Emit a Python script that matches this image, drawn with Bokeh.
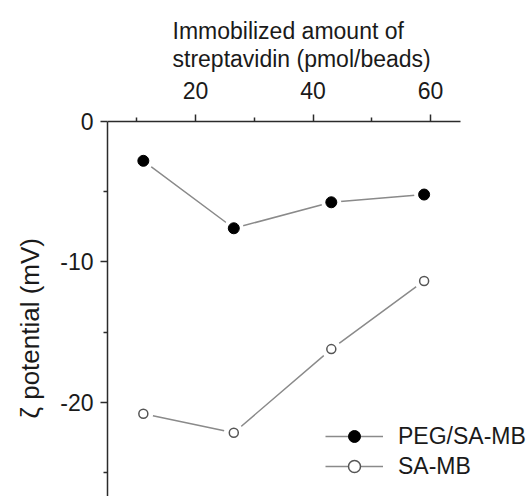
from bokeh.plotting import figure
from bokeh.models import Range1d, FixedTicker, Label, Legend, LegendItem, Title
from bokeh.embed import file_html
from bokeh.resources import INLINE

# ---- data ----
x_strep = [11.1, 26.5, 43.1, 58.9]
peg_sa_mb = [-2.8, -7.6, -5.75, -5.2]
sa_mb = [-20.8, -22.15, -16.2, -11.35]
x_major = [20, 40, 60]
x_minor = [10, 30, 50]
y_major = [0, -10, -20]
y_minor = [-5, -15, -25]
y_tick_text = {0: "0", -10: "-10", -20: "-20"}
series_labels = ["PEG/SA-MB", "SA-MB"]
x_title_lines = ["Immobilized amount of", "streptavidin (pmol/beads)"]
y_title = "ζ potential (mV)"

FONT = "Liberation Sans"
TXT = "#1a1a1a"
AX = "#2b2b2b"
FW, FH = 422, 496

p = figure(frame_width=FW, frame_height=FH,
           min_border_left=107, min_border_right=0,
           min_border_top=0, min_border_bottom=0,
           x_range=Range1d(5, 76.84), y_range=Range1d(-26.69, 8.61),
           x_axis_location="above", y_axis_location="left",
           output_backend="svg", toolbar_location=None)
p.xgrid.visible = False
p.ygrid.visible = False
p.outline_line_color = None
p.background_fill_color = "white"
p.border_fill_color = "white"

p.xaxis.ticker = FixedTicker(ticks=x_major, minor_ticks=x_minor)
p.yaxis.ticker = FixedTicker(ticks=y_major, minor_ticks=y_minor)
p.xaxis.fixed_location = 0
p.xaxis.bounds = (5, 65.1)
p.yaxis.bounds = (-26.69, 0)
p.yaxis.major_label_overrides = y_tick_text
for ax in (p.xaxis[0], p.yaxis[0]):
    ax.axis_line_color = AX
    ax.axis_line_width = 1.5
    ax.major_tick_line_color = AX
    ax.major_tick_line_width = 1.5
    ax.minor_tick_line_color = AX
    ax.minor_tick_line_width = 1.5
    ax.major_tick_out = 7
    ax.major_tick_in = 0
    ax.minor_tick_out = 4
    ax.minor_tick_in = 0
    ax.major_label_text_font = FONT
    ax.major_label_text_font_size = "23px"
    ax.major_label_text_color = TXT
p.xaxis.major_label_standoff = 15
p.yaxis.major_label_standoff = 7

# y title as a left-side title, anchored from the frame bottom
p.add_layout(Title(text=y_title, align="left", offset=78, standoff=25,
                   text_font=FONT, text_font_size="26px", text_font_style="normal",
                   text_color=TXT), "left")

# lines
l1 = p.line(x_strep, peg_sa_mb, line_color="#8a8a8a", line_width=1.5)
l2 = p.line(x_strep, sa_mb, line_color="#8a8a8a", line_width=1.5)
# gaps around markers
p.scatter(x_strep, peg_sa_mb, size=20, fill_color="white", line_color=None)
p.scatter(x_strep, sa_mb, size=20, fill_color="white", line_color=None)
# markers
m1 = p.scatter(x_strep, peg_sa_mb, size=11, fill_color="black", line_color="black", line_width=1)
m2 = p.scatter(x_strep, sa_mb, size=9, fill_color="white", line_color="#555555", line_width=1.5)

legend = Legend(items=[LegendItem(label=series_labels[0], renderers=[l1, m1]),
                       LegendItem(label=series_labels[1], renderers=[l2, m2])],
                location=(218, 15), glyph_width=58, glyph_height=30,
                label_height=30, label_standoff=15, spacing=0, padding=0, margin=0,
                border_line_color=None, background_fill_alpha=0,
                label_text_font=FONT, label_text_font_size="23px",
                label_text_color=TXT)
p.add_layout(legend)

# top axis title (two left-aligned lines)
p.add_layout(Label(x=65, y=FH - 30, x_units="screen", y_units="screen",
                   text=x_title_lines[0], text_font=FONT, text_font_size="23px",
                   text_color=TXT, text_align="left", text_baseline="alphabetic"))
p.add_layout(Label(x=65, y=FH - 58.5, x_units="screen", y_units="screen",
                   text=x_title_lines[1], text_font=FONT, text_font_size="23px",
                   text_color=TXT, text_align="left", text_baseline="alphabetic"))

open("out.html", "w").write(file_html(p, INLINE))
